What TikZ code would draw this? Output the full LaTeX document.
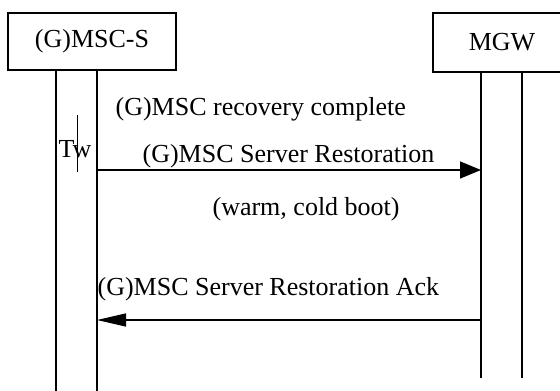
\documentclass[tikz,border=0pt]{standalone}
\usepackage{fontspec}
\setmainfont{Liberation Serif}
\usetikzlibrary{arrows.meta}
\begin{document}
\begin{tikzpicture}[x=1pt,y=-1pt, line width=1.2pt,
  entity/.style={draw, rectangle, inner sep=0pt, font=\fontsize{26}{30}\selectfont},
  lbl/.style={anchor=base west, inner sep=0pt, font=\fontsize{26}{30}\selectfont},
  life/.style={line width=1.3pt},
  msg/.style={line width=1.3pt}]
\useasboundingbox (0,0) rectangle (560,391);
\node[entity, minimum width=168pt, minimum height=57pt] (msc) at (92,41.5) {(G)MSC-S};
\node[entity, minimum width=138pt, minimum height=59pt] (mgw) at (502,42.5) {MGW};
% lifelines
\coordinate (a1) at (56,70);  \coordinate (a2) at (56,391);
\coordinate (b1) at (97,70);  \coordinate (b2) at (97,391);
\coordinate (c1) at (481,72); \coordinate (c2) at (481,378);
\coordinate (d1) at (522,72); \coordinate (d2) at (522,378);
\draw[life] (a1) -- (a2);
\draw[life] (b1) -- (b2);
\draw[life] (c1) -- (c2);
\draw[life] (d1) -- (d2);
% timer
\coordinate (tw1) at (77,115); \coordinate (tw2) at (77,172);
\draw[line width=1pt] (tw1) -- (tw2);
\node[lbl] (twl) at (58,157) {Tw};
% messages
\coordinate (m1s) at (97,170); \coordinate (m1e) at (481,170);
\draw[msg, -{Triangle[length=21pt,width=17pt]}] (m1s) -- (m1e);
\coordinate (m2s) at (481,320); \coordinate (m2e) at (97,320);
\draw[msg, -{Triangle[length=29pt,width=13pt]}] (m2s) -- (m2e);
\node[lbl] (t1) at (115,115) {(G)MSC recovery complete};
\node[lbl] (t2) at (142,162) {(G)MSC Server Restoration};
\node[lbl] (t3) at (212,215) {(warm, cold boot)};
\node[lbl] (t4) at (97,295) {(G)MSC Server Restoration Ack};
\end{tikzpicture}
\end{document}
